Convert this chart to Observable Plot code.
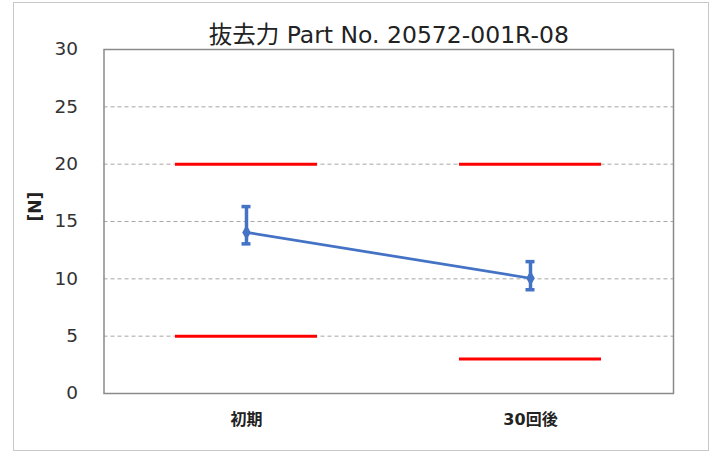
<!DOCTYPE html>
<html>
<head>
<meta charset="utf-8">
<script src="https://cdn.jsdelivr.net/npm/d3@7"></script>
<script src="https://cdn.jsdelivr.net/npm/@observablehq/plot@0.6"></script>
<style>
  html, body { margin: 0; padding: 0; background: #fff; }
  #wrap { position: relative; width: 714px; height: 454px; }
  #border { position: absolute; left: 13px; top: 2px; width: 696px; height: 449px; border: 1px solid #c8c8c8; box-sizing: border-box; pointer-events: none; }
  #chart { position: absolute; left: 0; top: 0; }
</style>
</head>
<body>
<div id="wrap"><div id="chart"></div><div id="border"></div></div>
<script>
const title = "抜去力 Part No. 20572-001R-08";
const yLabel = "[N]";
const categories = ["初期", "30回後"];
const means = [14.05, 10.05];
const errHigh = [16.3, 11.5];
const errLow = [13.05, 9.05];
const upperLimit = [20, 20];
const lowerLimit = [5, 3];
const yTicks = [0, 5, 10, 15, 20, 25, 30];
const gridTicks = [5, 10, 15, 20, 25];

const rows = categories.map((c, i) => ({
  cat: c, mean: means[i], hi: errHigh[i], lo: errLow[i],
  upper: upperLimit[i], lower: lowerLimit[i]
}));

const font = "'DejaVu Sans', 'Noto Sans CJK JP', sans-serif";
const blue = "#4472C4";

const chart = Plot.plot({
  width: 714,
  height: 454,
  marginLeft: 103.5,
  marginRight: 41,
  marginTop: 49,
  marginBottom: 61,
  style: { fontFamily: font, background: "transparent", overflow: "visible" },
  x: { type: "band", domain: categories, paddingInner: 0.5, paddingOuter: 0.25, label: null },
  y: { domain: [0, 30], label: null },
  marks: [
    Plot.ruleY(gridTicks, { stroke: "#a6a6a6", strokeWidth: 1, strokeDasharray: "4,3" }),
    Plot.frame({ stroke: "#8a8a8a", strokeWidth: 1.5 }),
    Plot.axisY(yTicks, { tickSize: 0, tickPadding: 26, fontSize: 18.5, fill: "#333", label: null }),
    Plot.axisX({ tickSize: 0, tickPadding: 20, fontSize: 16, fontWeight: "bold", fill: "#222", label: null }),
    Plot.text([yLabel], { frameAnchor: "left", dx: -68, rotate: -90, fontSize: 17, fontWeight: "bold", fill: "#222" }),
    Plot.text([title], { frameAnchor: "top", dy: -23, fontSize: 23.5, fill: "#222" }),
    Plot.tickY(rows, { x: "cat", y: "upper", stroke: "#ff0000", strokeWidth: 3 }),
    Plot.tickY(rows, { x: "cat", y: "lower", stroke: "#ff0000", strokeWidth: 3 }),
    Plot.line(rows, { x: "cat", y: "mean", stroke: blue, strokeWidth: 2.75 }),
    Plot.ruleX(rows, { x: "cat", y1: "lo", y2: "hi", stroke: blue, strokeWidth: 3.5 }),
    Plot.tickY(rows, { x: "cat", y: "hi", stroke: blue, strokeWidth: 3.5, insetLeft: 66.5, insetRight: 66.5 }),
    Plot.tickY(rows, { x: "cat", y: "lo", stroke: blue, strokeWidth: 3.5, insetLeft: 66.5, insetRight: 66.5 }),
    Plot.dot(rows, { x: "cat", y: "mean", symbol: "diamond", r: 4.5, fill: blue, stroke: "none" })
  ]
});
document.getElementById("chart").appendChild(chart);
</script>
</body>
</html>
